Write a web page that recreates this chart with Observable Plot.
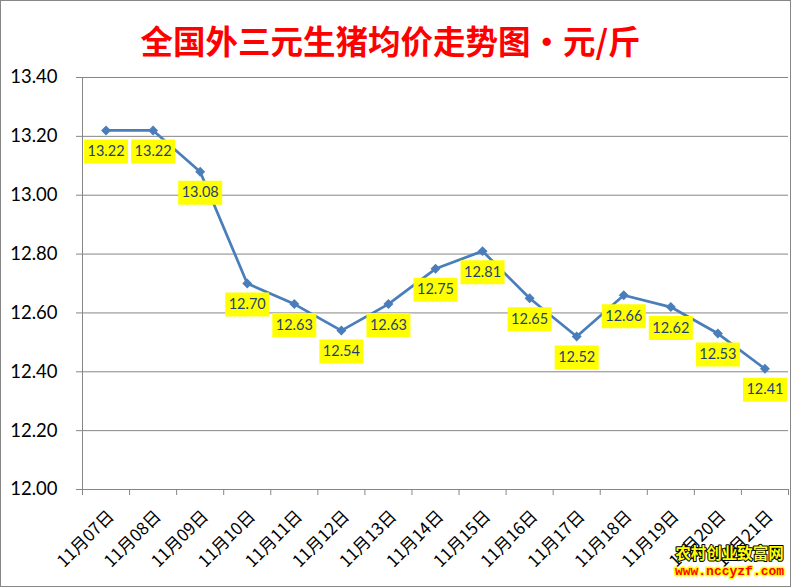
<!DOCTYPE html>
<html>
<head>
<meta charset="utf-8">
<script src="https://cdn.jsdelivr.net/npm/d3@7"></script>
<script src="https://cdn.jsdelivr.net/npm/@observablehq/plot@0.6"></script>
<style>
  body { margin: 0; background: #fff; }
  #chart svg { display: block; outline: 1px solid #878787; outline-offset: -1px; }
</style>
</head>
<body>
<div id="chart"></div>
<script>
const titleText = "全国外三元生猪均价走势图·元/斤";
const dates = ["11月07日","11月08日","11月09日","11月10日","11月11日","11月12日","11月13日","11月14日","11月15日","11月16日","11月17日","11月18日","11月19日","11月20日","11月21日"];
const prices = [13.22, 13.22, 13.08, 12.70, 12.63, 12.54, 12.63, 12.75, 12.81, 12.65, 12.52, 12.66, 12.62, 12.53, 12.41];
const yTicks = [12.00, 12.20, 12.40, 12.60, 12.80, 13.00, 13.20, 13.40];
const watermark1 = "农村创业致富网";
const watermark2 = "www.nccyzf.com";

const data = dates.map((d, i) => ({date: d, pos: i + 0.5, price: prices[i]}));
const boundaries = d3.range(dates.length + 1);

const boxSymbol = {
  draw(context) { context.rect(-22, -12, 44, 24); }
};

const plot = Plot.plot({
  width: 791,
  height: 587,
  marginLeft: 82,
  marginRight: 3,
  marginTop: 77,
  marginBottom: 98,
  style: {fontFamily: "Lato, sans-serif", background: "#fff"},
  x: {type: "linear", domain: [0, dates.length]},
  y: {domain: [12, 13.4]},
  marks: [
    Plot.gridY(yTicks, {stroke: "#868686", strokeOpacity: 1, strokeWidth: 1}),
    Plot.axisY({ticks: yTicks, tickSize: 6, tickPadding: 19, tickFormat: d => d.toFixed(2),
      stroke: "#868686", fill: "#000", fontSize: 18.5, label: null}),
    Plot.axisX({ticks: boundaries, tickSize: 6, tickFormat: () => "", stroke: "#868686", label: null}),
    Plot.ruleX([0], {stroke: "#868686", strokeWidth: 1}),
    Plot.text(data, {x: "pos", text: "date", frameAnchor: "bottom", rotate: -45, textAnchor: "end",
      dx: 9, dy: 28, fontSize: 17, fill: "#000", fontFamily: "'Noto Sans CJK SC', sans-serif"}),
    Plot.line(data, {x: "pos", y: "price", stroke: "#4A7EBB", strokeWidth: 2.75}),
    Plot.dot(data, {x: "pos", y: "price", symbol: "diamond2", r: 4.5, fill: "#4A7EBB", stroke: null}),
    Plot.dot(data, {x: "pos", y: "price", symbol: boxSymbol, r: 5, fill: "#FFFF00", stroke: null, dy: 21}),
    Plot.text(data, {x: "pos", y: "price", text: d => d.price.toFixed(2), dy: 21, fontSize: 14.5,
      fill: "#1F3F73", fontFamily: "Lato, sans-serif"}),
    Plot.text([titleText], {frameAnchor: "top", dx: -45, dy: -47, fontSize: 32.5, fontWeight: "bold",
      fill: "#FF0000", fontFamily: "'Noto Sans CJK SC', sans-serif"}),
    Plot.text([watermark1], {frameAnchor: "bottom-right", textAnchor: "middle", dx: -59, dy: 69,
      fontSize: 15.5, fontWeight: "bold", fill: "#FFFF00", stroke: "#000", strokeWidth: 2,
      paintOrder: "stroke", fontFamily: "'Noto Sans CJK SC', sans-serif"}),
    Plot.text([watermark2], {frameAnchor: "bottom-right", textAnchor: "middle", dx: -59, dy: 85,
      fontSize: 13, fontWeight: "bold", fill: "#FF0000", stroke: "#FFFF00", strokeWidth: 3,
      paintOrder: "stroke", fontFamily: "'Liberation Mono', monospace"})
  ]
});
document.getElementById("chart").appendChild(plot);
</script>
</body>
</html>
